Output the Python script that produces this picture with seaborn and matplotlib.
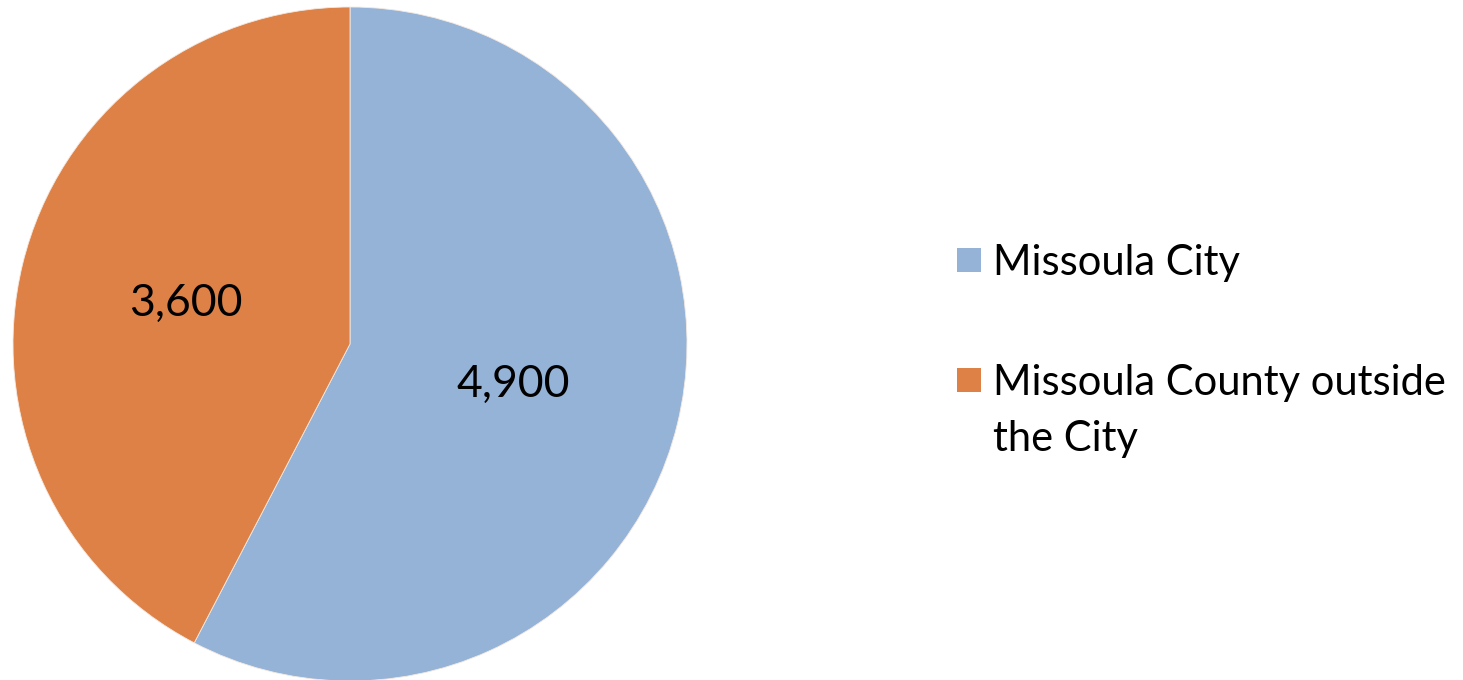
import matplotlib
matplotlib.use("Agg")
import matplotlib.pyplot as plt
from matplotlib.patches import Rectangle
import seaborn as sns

# Housing units by location
categories = ["Missoula City", "Missoula County outside\nthe City"]
values = [4900, 3600]
colors = ["#95B3D7", "#DE8146"]

sns.set_theme(style="white")
plt.rcParams["font.family"] = ["Lato", "DejaVu Sans"]

W, H = 1463, 680
fig = plt.figure(figsize=(W / 100, H / 100), dpi=100)

# Pie centred at (350, 344) px with radius 337 px
cx, cy, r = 350, 344, 337
ax = fig.add_axes([(cx - r) / W, (H - cy - r) / H, 2 * r / W, 2 * r / H])
palette = sns.color_palette(colors)

wedges, texts, autotexts = ax.pie(
    values,
    colors=palette,
    startangle=90,
    counterclock=False,
    radius=1.0,
    autopct=lambda p: "",
    pctdistance=0.5,
    wedgeprops=dict(edgecolor="#F4E9E1", linewidth=0.6),
)
for t, v in zip(autotexts, values):
    t.set_text(f"{v:,}")
    t.set_fontsize(32)
    t.set_color("black")
ax.set_xlim(-1, 1)
ax.set_ylim(-1, 1)
ax.set_aspect("equal")
ax.axis("off")

# Legend drawn in figure pixel space; wrapped labels hang below the swatch
sq = 24
line_gap = 55
entries = [(260, categories[0], palette[0]), (380, categories[1], palette[1])]
for y, label, c in entries:
    fig.patches.append(
        Rectangle((957 / W, (H - y - sq / 2) / H), sq / W, sq / H,
                  transform=fig.transFigure, facecolor=c, edgecolor="none")
    )
    for i, line in enumerate(label.split("\n")):
        fig.text(993 / W, (H - y - i * line_gap) / H, line, fontsize=30,
                 color="black", ha="left", va="center_baseline")

fig.savefig("out.png", dpi=100, facecolor="white")
